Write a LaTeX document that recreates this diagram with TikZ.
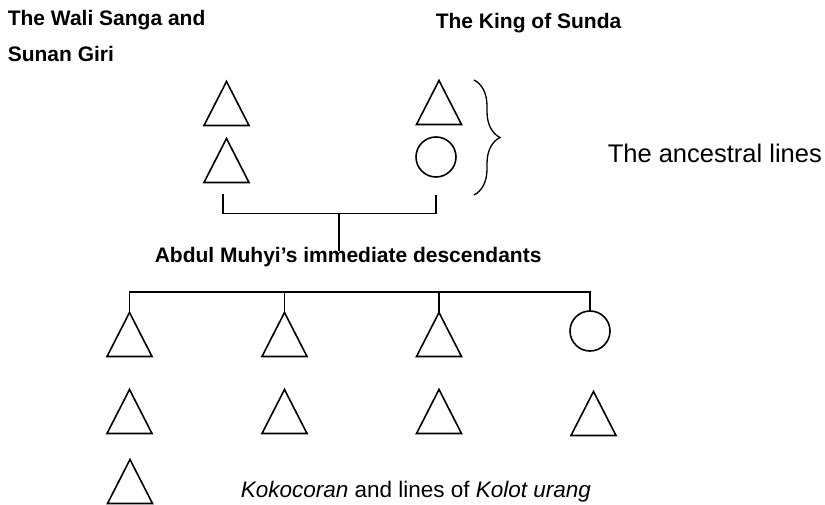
\documentclass[tikz,border=0pt]{standalone}
\usepackage{fontspec}
\setmainfont{Liberation Sans}
\usetikzlibrary{calc,decorations.pathreplacing}
\begin{document}
\begin{tikzpicture}[x=1pt,y=-1pt,line width=1.6pt,
  male/.style={minimum width=45pt,minimum height=44pt,inner sep=0pt,outer sep=0pt},
  female/.style={circle,draw,minimum size=40pt,inner sep=0pt,outer sep=0pt},
  headtext/.style={font=\bfseries\fontsize{21}{25}\selectfont,inner sep=0pt,anchor=base west},
  plaintext/.style={inner sep=0pt,anchor=base west}]
\useasboundingbox (0,0) rectangle (825,505);

% headings
\node[headtext] (wali1) at (7,26) {The Wali Sanga and};
\node[headtext] (wali2) at (7,62) {Sunan Giri};
\node[headtext] (king) at (435,29) {The King of Sunda};

% ancestral lines
\node[male] (a1) at (226.5,103.5) {};
\node[male] (a2) at (226.5,160.5) {};
\node[male] (b1) at (439,102.5) {};
\node[female] (b2) at (436,157) {};

\draw[line width=1.3pt,decorate,decoration={brace,amplitude=26pt,aspect=0.5}]
  (474,80) -- (474,195);
\node[plaintext,font=\fontsize{25.5}{30}\selectfont] (anc) at (607,163) {The ancestral lines};

% Abdul Muhyi
\node[headtext] (desc) at (154,263) {Abdul Muhyi’s immediate descendants};

\draw ($(a2.south)+(-3.5,12)$) -- ($(a2.south)+(-3.5,31)$)
  -| ($(b2.south)+(0,18)$);
\coordinate (pj) at (339,213.5);
\draw (pj) -- ($(pj |- desc.north)+(0,4)$);

% immediate descendants
\node[male] (d1) at (129.5,334.5) {};
\node[male] (d2) at (284.5,334.5) {};
\node[male] (d3) at (439,334.5) {};
\node[female] (d4) at (590,331) {};

\coordinate (sbar) at (0,292);
\draw (d1.north) |- (d4.north |- sbar) -- (d4.north);
\draw (d2.north) -- (d2.north |- sbar);
\draw (d3.north) -- (d3.north |- sbar);

% next generation
\node[male] (e1) at (129.5,411.5) {};
\node[male] (e2) at (284.5,411.5) {};
\node[male] (e3) at (439,411.5) {};
\node[male] (e4) at (593.5,413.5) {};
\node[male] (f1) at (130,481.5) {};

\node[plaintext,font=\fontsize{22.5}{27}\selectfont] (koko) at (240,497)
  {\textit{Kokocoran} and lines of \textit{Kolot urang}};

% triangle outlines for the male nodes
\foreach \t in {a1,a2,b1,d1,d2,d3,e1,e2,e3,e4,f1}
  \draw (\t.south west) -- (\t.north) -- (\t.south east) -- cycle;
\end{tikzpicture}
\end{document}
